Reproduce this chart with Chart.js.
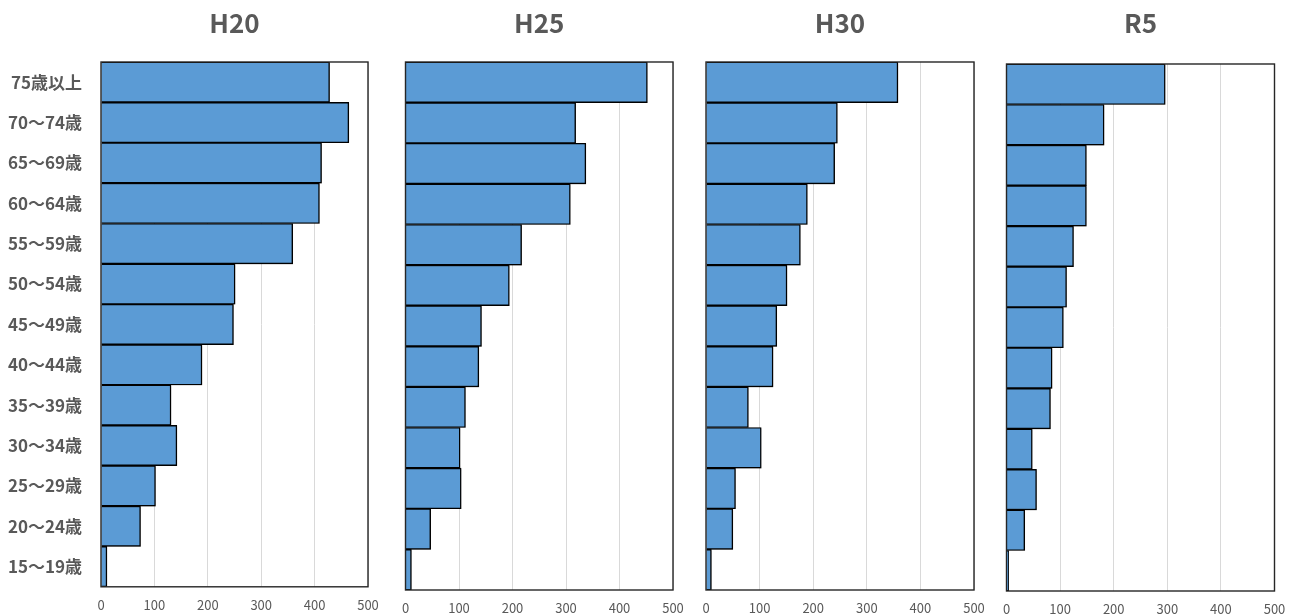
<!DOCTYPE html>
<html lang="ja">
<head>
<meta charset="utf-8">
<title>年齢階級別</title>
<script src="https://cdn.jsdelivr.net/npm/chart.js@4"></script>
<style>
  html, body { margin: 0; padding: 0; background: #fff; }
  #wrap { position: relative; width: 1298px; height: 616px; overflow: hidden; }
  #wrap canvas { position: absolute; top: 0; }
</style>
</head>
<body>
<div id="wrap">
  <canvas id="c0"></canvas>
  <canvas id="c1"></canvas>
  <canvas id="c2"></canvas>
  <canvas id="c3"></canvas>
</div>
<script>
// Age groups, top to bottom
const categories = ['75歳以上', '70〜74歳', '65〜69歳', '60〜64歳', '55〜59歳', '50〜54歳',
  '45〜49歳', '40〜44歳', '35〜39歳', '30〜34歳', '25〜29歳', '20〜24歳', '15〜19歳'];

// Survey years shown as panel titles
const years = ['H20', 'H25', 'H30', 'R5'];

// Values per age group for each survey year
const h20 = [428, 464, 413, 409, 359, 251, 248, 189, 131, 142, 102, 74, 11];
const h25 = [452, 318, 337, 308, 217, 194, 142, 137, 112, 102, 104, 47, 11];
const h30 = [358, 245, 240, 189, 176, 151, 132, 125, 79, 103, 55, 50, 10];
const r5  = [296, 182, 149, 149, 125, 112, 106, 85, 82, 48, 56, 34, 4];

// Horizontal axis range and tick step
const axisMin = 0;
const axisMax = 500;
const axisStep = 100;

const seriesList = [h20, h25, h30, r5];

const TEXT = '#595959';
const JP = '"Noto Sans CJK JP", "Noto Sans", sans-serif';

// Canvas extents and plot frame (page pixels) for each panel
const panels = [
  { cx0: 0,   cx1: 382,  left: 101,    right: 368,    top: 62, bottom: 588, showY: true },
  { cx0: 382, cx1: 690,  left: 405.5,  right: 673,    top: 62, bottom: 590, showY: false },
  { cx0: 690, cx1: 990,  left: 706,    right: 974,    top: 62, bottom: 590, showY: false },
  { cx0: 990, cx1: 1298, left: 1006.5, right: 1274.5, top: 64, bottom: 591, showY: false }
];

// Frame around the plot area, drawn after the bars
const framePlugin = {
  id: 'plotFrame',
  afterDatasetsDraw(chart) {
    const { ctx, chartArea: a } = chart;
    ctx.save();
    ctx.strokeStyle = '#262626';
    ctx.lineWidth = 1.4;
    ctx.strokeRect(a.left, a.top, a.right - a.left, a.bottom - a.top);
    ctx.restore();
  }
};

// Soft drop shadow under the bars
const shadowPlugin = {
  id: 'barShadow',
  beforeDatasetsDraw(chart) {
    const ctx = chart.ctx;
    ctx.save();
    ctx.shadowColor = 'rgba(0,0,0,0.35)';
    ctx.shadowOffsetX = 1;
    ctx.shadowOffsetY = 1;
    ctx.shadowBlur = 1.5;
  },
  afterDatasetsDraw(chart) {
    chart.ctx.restore();
  }
};

panels.forEach((p, i) => {
  const canvas = document.getElementById('c' + i);
  const w = p.cx1 - p.cx0;
  canvas.width = w;
  canvas.height = 616;
  canvas.style.left = p.cx0 + 'px';
  canvas.style.width = w + 'px';
  canvas.style.height = '616px';

  const titleSize = 26;
  const titleLine = titleSize * 1.2;
  const titleTop = 8;

  new Chart(canvas, {
    type: 'bar',
    data: {
      labels: categories,
      datasets: [{
        label: years[i],
        data: seriesList[i],
        backgroundColor: '#5B9BD5',
        borderColor: '#000000',
        borderWidth: 1.4,
        borderSkipped: 'start',
        barPercentage: 1,
        categoryPercentage: 1
      }]
    },
    options: {
      indexAxis: 'y',
      responsive: false,
      animation: false,
      devicePixelRatio: 1,
      layout: {
        padding: {
          left: p.showY ? 0 : p.left - p.cx0,
          right: p.cx1 - p.right,
          top: 0,
          bottom: 0
        }
      },
      plugins: {
        legend: { display: false },
        tooltip: { enabled: false },
        title: {
          display: true,
          text: years[i],
          fullSize: false,
          color: TEXT,
          font: { family: JP, size: titleSize, weight: 'bold', lineHeight: 1.2 },
          padding: { top: titleTop, bottom: p.top - titleTop - titleLine }
        }
      },
      scales: {
        x: {
          min: axisMin,
          max: axisMax,
          grid: { color: '#d9d9d9', lineWidth: 1, drawTicks: false },
          border: { display: false },
          ticks: {
            stepSize: axisStep,
            color: TEXT,
            padding: 10,
            font: { family: JP, size: 13 }
          },
          afterFit(scale) {
            scale.height = 616 - p.bottom;
            scale.paddingLeft = 0;
            scale.paddingRight = 0;
          }
        },
        y: {
          display: p.showY,
          grid: { display: false, drawTicks: false },
          border: { display: false },
          ticks: {
            color: TEXT,
            padding: 19,
            font: { family: JP, size: 17, weight: 'bold' }
          },
          afterFit(scale) { if (p.showY) scale.width = p.left - p.cx0; }
        }
      }
    },
    plugins: [shadowPlugin, framePlugin]
  });
});
</script>
</body>
</html>
